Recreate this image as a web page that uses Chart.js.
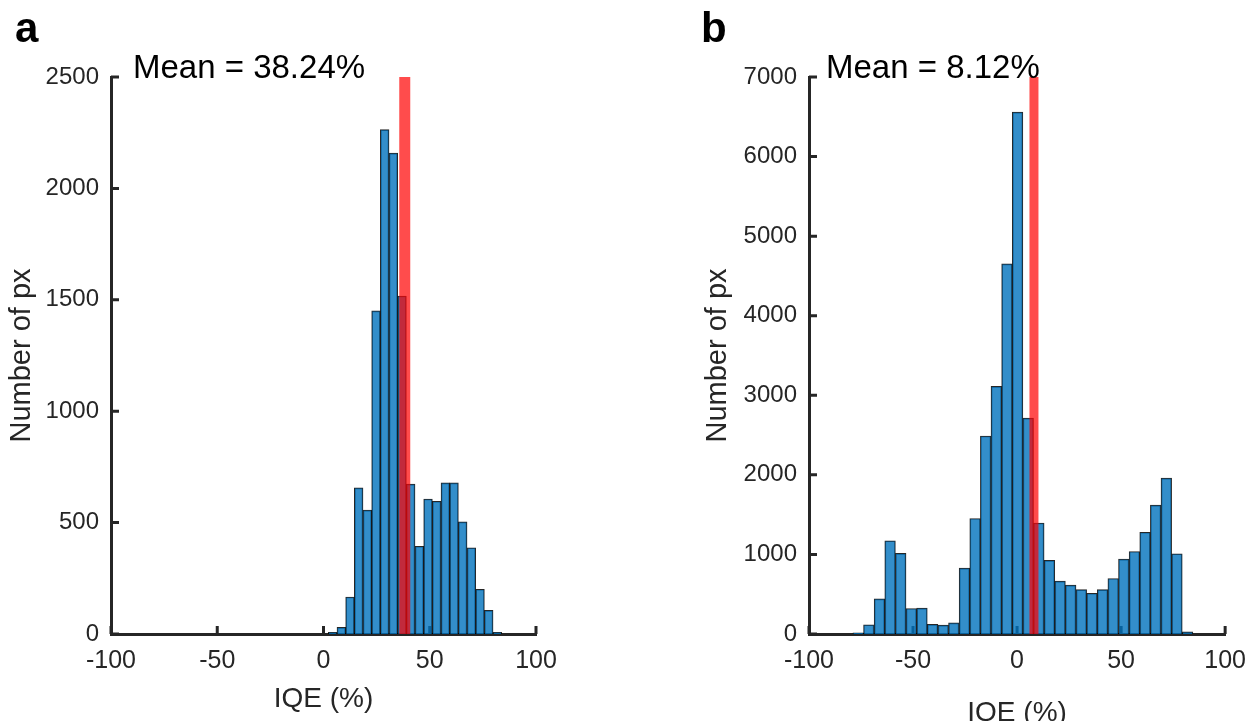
<!DOCTYPE html>
<html lang="en">
<head>
<meta charset="UTF-8">
<title>IQE histograms</title>
<script src="https://cdn.jsdelivr.net/npm/chart.js"></script>
<style>
  html, body { margin: 0; padding: 0; background: #fff; overflow: hidden; width: 1258px; height: 721px; }
  canvas { position: absolute; top: 0; }
  #chartA { left: 0; }
  #chartB { left: 629px; }
</style>
</head>
<body>
<canvas id="chartA" width="629" height="740"></canvas>
<canvas id="chartB" width="629" height="740"></canvas>

<script>
// panel a : bin centres (IQE %) and counts
const binsA = [4.31, 8.39, 12.47, 16.55, 20.63, 24.71, 28.79, 32.87, 36.95, 41.03,
               45.11, 49.19, 53.27, 57.35, 61.43, 65.51, 69.59, 73.67, 77.75, 81.83];
const countsA = [8, 30, 166, 656, 556, 1450, 2264, 2158, 1517, 673,
                 394, 606, 596, 678, 678, 503, 387, 201, 106, 8];
const meanA = 38.24;
const yTicksA = [0, 500, 1000, 1500, 2000, 2500];

// panel b
const binsB = [-76.35, -71.24, -66.14, -61.03, -55.92, -50.82, -45.71, -40.61, -35.50, -30.39,
               -25.29, -20.18, -15.08, -9.97, -4.86, 0.24, 5.35, 10.45, 15.56, 20.66,
               25.77, 30.88, 35.98, 41.09, 46.20, 51.30, 56.41, 61.51, 66.62, 71.73,
               76.83, 81.94];
const countsB = [14, 116, 442, 1172, 1014, 321, 326, 121, 112, 140,
                 828, 1451, 2488, 3112, 4651, 6558, 2712, 1395, 926, 665,
                 614, 558, 512, 558, 698, 940, 1037, 1279, 1619, 1958,
                 1009, 28];
const meanB = 8.12;
const yTicksB = [0, 1000, 2000, 3000, 4000, 5000, 6000, 7000];

const xTicks = [-100, -50, 0, 50, 100];

const FONT = '"Liberation Sans", Arial, Helvetica, sans-serif';
const AXIS = '#262626';

// inward tick marks + panel letter + mean label
function panelPlugin(letter, letterX, meanLabel, meanX, yTicks) {
    return {
        id: 'panel',
        beforeDatasetsDraw(chart) {
            const { ctx, scales: { x, y } } = chart;
            ctx.save();
            ctx.strokeStyle = AXIS;
            ctx.lineWidth = 3;
            ctx.beginPath();
            xTicks.forEach(v => {
                const px = x.getPixelForValue(v);
                ctx.moveTo(px, y.bottom);
                ctx.lineTo(px, y.bottom - 8);
            });
            yTicks.forEach(v => {
                const py = y.getPixelForValue(v);
                ctx.moveTo(x.left, py);
                ctx.lineTo(x.left + 8, py);
            });
            ctx.stroke();
            ctx.restore();
        },
        afterDraw(chart) {
            const ctx = chart.ctx;
            ctx.save();
            ctx.fillStyle = '#000';
            ctx.textBaseline = 'alphabetic';
            ctx.textAlign = 'left';
            ctx.font = 'bold 42px ' + FONT;
            ctx.fillText(letter, letterX, 42);
            ctx.font = '33px ' + FONT;
            ctx.fillText(meanLabel, meanX, 78);
            ctx.restore();
        }
    };
}

function makeHist(canvasId, bins, counts, mean, yTicks, opts) {
    const yMax = yTicks[yTicks.length - 1];
    const ctx = document.getElementById(canvasId).getContext('2d');
    return new Chart(ctx, {
        data: {
            datasets: [
                {
                    type: 'line',
                    order: 0,
                    data: [{ x: mean, y: 0 }, { x: mean, y: yMax }],
                    borderColor: 'rgba(255,0,0,0.7)',
                    borderWidth: opts.meanWidth,
                    borderCapStyle: 'butt',
                    pointRadius: 0,
                    fill: false
                },
                {
                    type: 'bar',
                    order: 1,
                    data: bins.map((b, i) => ({ x: b, y: counts[i] })),
                    backgroundColor: 'rgba(0,114,189,0.8)',
                    borderColor: 'rgba(0,0,0,0.85)',
                    borderWidth: 1,
                    barPercentage: 1,
                    categoryPercentage: 1
                }
            ]
        },
        options: {
            responsive: false,
            animation: false,
            devicePixelRatio: 1,
            layout: { padding: { left: 0, top: 77, right: opts.padRight, bottom: 0 } },
            plugins: { legend: { display: false }, tooltip: { enabled: false } },
            scales: {
                x: {
                    type: 'linear',
                    min: -100,
                    max: 100,
                    offset: false,
                    afterBuildTicks: s => { s.ticks = xTicks.map(v => ({ value: v })); },
                    afterFit: s => { s.height = 740 - 634; },
                    grid: { display: false, drawTicks: false },
                    border: { display: true, color: AXIS, width: 3 },
                    ticks: {
                        padding: 12,
                        color: AXIS,
                        font: { family: FONT, size: 25 },
                        maxRotation: 0,
                        callback: v => String(v)
                    },
                    title: {
                        display: true,
                        text: 'IQE (%)',
                        color: AXIS,
                        font: { family: FONT, size: 28 },
                        padding: { top: 0, bottom: opts.xTitlePad }
                    }
                },
                y: {
                    type: 'linear',
                    min: 0,
                    max: yMax,
                    afterBuildTicks: s => { s.ticks = yTicks.map(v => ({ value: v })); },
                    afterFit: s => { s.width = opts.yWidth; },
                    grid: { display: false, drawTicks: false },
                    border: { display: true, color: AXIS, width: 3 },
                    ticks: {
                        padding: 12,
                        color: AXIS,
                        font: { family: FONT, size: 24 },
                        callback: v => String(v)
                    },
                    title: {
                        display: true,
                        text: 'Number of px',
                        color: AXIS,
                        font: { family: FONT, size: 29 },
                        padding: { top: opts.yTitlePad, bottom: 0 }
                    }
                }
            }
        },
        plugins: [panelPlugin(opts.letter, opts.letterX, 'Mean = ' + mean.toFixed(2) + '%', opts.meanX, yTicks)]
    });
}

document.addEventListener('DOMContentLoaded', () => {
    makeHist('chartA', binsA, countsA, meanA, yTicksA, {
        padRight: 93, yWidth: 111, xTitlePad: 24, yTitlePad: 5,
        meanWidth: 11, letter: 'a', letterX: 15, meanX: 133
    });
    makeHist('chartB', binsB, countsB, meanB, yTicksB, {
        padRight: 25, yWidth: 180, xTitlePad: 10, yTitlePad: 72,
        meanWidth: 9, letter: 'b', letterX: 72, meanX: 197
    });
});
</script>
</body>
</html>
